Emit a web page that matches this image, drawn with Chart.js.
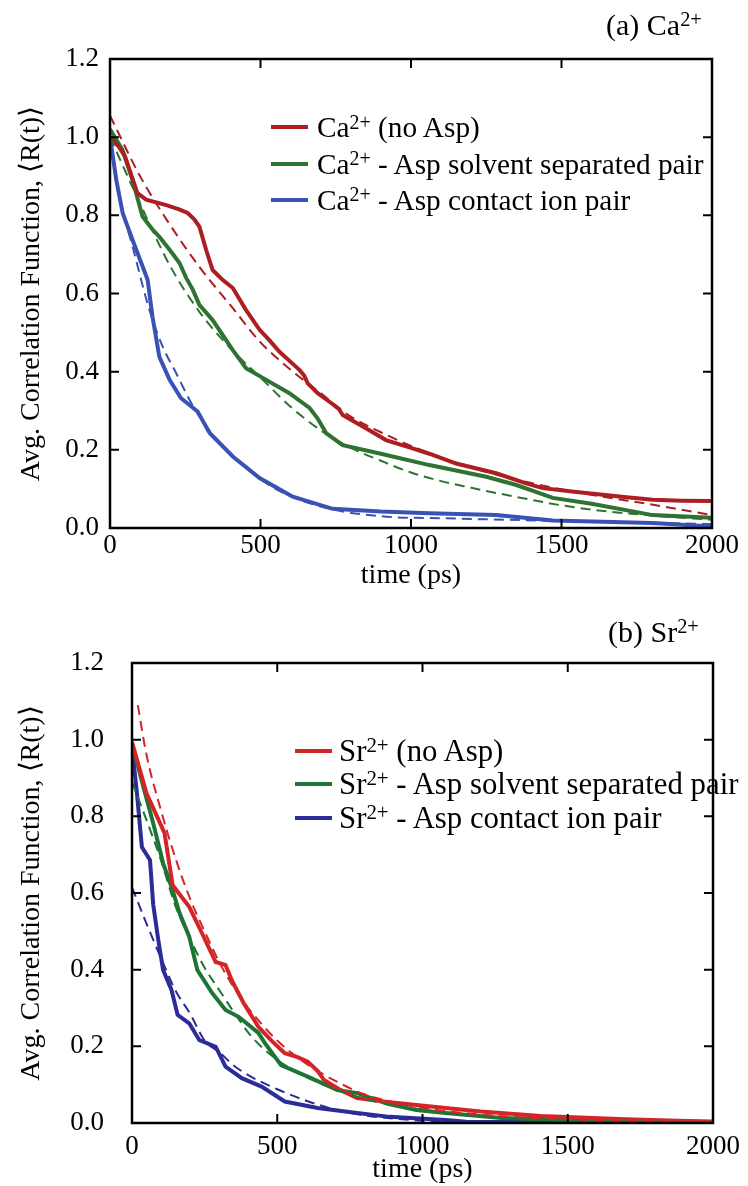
<!DOCTYPE html>
<html><head><meta charset="utf-8">
<script src="https://cdn.jsdelivr.net/npm/chart.js@4.4.0/dist/chart.umd.min.js"></script>
<style>
html,body{margin:0;padding:0;background:#fff;width:748px;height:1186px;overflow:hidden;}
#wrap{position:relative;width:748px;height:1186px;font-family:'Liberation Serif','Times New Roman',serif;color:#000;}
canvas{position:absolute;left:0;}
.txt{position:absolute;white-space:nowrap;line-height:1;}
.sup{font-size:0.68em;position:relative;top:-0.42em;}
.sw{position:absolute;height:4px;}
</style></head>
<body><div id="wrap">
<canvas id="ca" width="748" height="595" style="top:0"></canvas>
<canvas id="sr" width="748" height="586" style="top:600px"></canvas>
</div>
<script>
// ---------- Panel (a) Ca2+ ----------
const caNoAspT = [0, 30, 50, 91, 120, 187, 230, 258, 280, 297, 320, 341, 374, 408, 450, 497, 530, 563, 600, 630, 645, 657, 690, 729, 760, 773, 850, 917, 1000, 1061, 1150, 1283, 1380, 1437, 1550, 1700, 1803, 1900, 2000];
const caNoAspR = [1.0, 0.975, 0.95, 0.857, 0.84, 0.826, 0.815, 0.806, 0.79, 0.771, 0.71, 0.66, 0.635, 0.614, 0.56, 0.507, 0.48, 0.451, 0.425, 0.404, 0.39, 0.37, 0.345, 0.323, 0.305, 0.289, 0.255, 0.225, 0.205, 0.19, 0.165, 0.14, 0.115, 0.102, 0.092, 0.08, 0.072, 0.07, 0.069];
const caNoAspFitT = [0, 100, 200, 300, 400, 500, 600, 700, 800, 900, 1000, 1200, 1400, 1600, 1800, 2000];
const caNoAspFitR = [1.055, 0.9, 0.775, 0.665, 0.57, 0.475, 0.405, 0.345, 0.285, 0.245, 0.21, 0.155, 0.115, 0.085, 0.06, 0.033];
const caSspT = [0, 42, 75, 108, 140, 164, 200, 231, 253, 275, 297, 341, 408, 452, 519, 596, 663, 690, 718, 773, 900, 1061, 1250, 1350, 1471, 1600, 1803, 2000];
const caSspR = [1.02, 0.967, 0.89, 0.797, 0.765, 0.745, 0.71, 0.678, 0.64, 0.61, 0.571, 0.532, 0.455, 0.409, 0.379, 0.345, 0.307, 0.28, 0.243, 0.212, 0.19, 0.161, 0.131, 0.11, 0.077, 0.062, 0.033, 0.026];
const caSspFitT = [0, 100, 200, 300, 400, 500, 600, 700, 800, 900, 1000, 1100, 1200, 1300, 1400, 1500, 1600, 1800, 2000];
const caSspFitR = [1.0, 0.83, 0.67, 0.55, 0.46, 0.385, 0.31, 0.25, 0.205, 0.172, 0.142, 0.12, 0.103, 0.087, 0.072, 0.058, 0.047, 0.032, 0.021];
const caCipT = [0, 21, 42, 75, 104, 125, 141, 164, 198, 236, 291, 331, 408, 497, 607, 740, 900, 1061, 1283, 1471, 1803, 2000];
const caCipR = [1.0, 0.89, 0.806, 0.737, 0.678, 0.635, 0.541, 0.438, 0.379, 0.332, 0.298, 0.243, 0.183, 0.128, 0.08, 0.049, 0.042, 0.038, 0.033, 0.019, 0.013, 0.004];
const caCipFitT = [0, 31, 75, 131, 175, 220, 270, 350, 450, 550, 700, 900, 1100, 1500, 2000];
const caCipFitR = [1.0, 0.848, 0.72, 0.558, 0.464, 0.396, 0.32, 0.23, 0.155, 0.1, 0.055, 0.03, 0.025, 0.018, 0.01];

// ---------- Panel (b) Sr2+ ----------
const srNoAspT = [0, 50, 112, 140, 197, 241, 288, 310, 322, 345, 384, 435, 480, 526, 570, 605, 640, 661, 720, 775, 880, 979, 1080, 1200, 1408, 1700, 2000];
const srNoAspR = [0.994, 0.86, 0.756, 0.62, 0.564, 0.495, 0.42, 0.415, 0.412, 0.37, 0.313, 0.251, 0.215, 0.182, 0.172, 0.16, 0.135, 0.112, 0.085, 0.065, 0.055, 0.047, 0.039, 0.03, 0.018, 0.01, 0.003];
const srNoAspFitT = [20, 50, 100, 150, 200, 250, 300, 356, 400, 500, 600, 700, 800, 1000, 1200, 1500, 2000];
const srNoAspFitR = [1.09, 0.96, 0.815, 0.69, 0.585, 0.5, 0.42, 0.347, 0.3, 0.215, 0.155, 0.11, 0.075, 0.04, 0.022, 0.01, 0.002];
const srSspT = [0, 39, 73, 107, 140, 164, 197, 225, 276, 322, 367, 435, 457, 513, 605, 707, 775, 880, 979, 1080, 1272, 1500, 2000];
const srSspR = [0.99, 0.877, 0.782, 0.678, 0.607, 0.547, 0.486, 0.399, 0.339, 0.295, 0.277, 0.235, 0.209, 0.151, 0.121, 0.086, 0.078, 0.05, 0.034, 0.026, 0.013, 0.008, 0.003];
const srSspFitT = [0, 50, 100, 150, 200, 250, 300, 350, 412, 500, 600, 700, 800, 1000, 1200, 1500, 2000];
const srSspFitR = [0.89, 0.79, 0.685, 0.565, 0.48, 0.405, 0.347, 0.29, 0.225, 0.165, 0.12, 0.088, 0.063, 0.035, 0.018, 0.008, 0.002];
const srCipT = [0, 17, 34, 62, 73, 90, 107, 136, 157, 197, 232, 288, 322, 378, 446, 526, 639, 775, 887, 1080, 1150, 1500, 2000];
const srCipR = [0.98, 0.86, 0.72, 0.686, 0.57, 0.48, 0.399, 0.347, 0.282, 0.26, 0.216, 0.199, 0.147, 0.117, 0.095, 0.056, 0.039, 0.026, 0.016, 0.008, 0.003, 0.002, 0.0];
const srCipFitT = [0, 50, 100, 150, 200, 250, 300, 350, 400, 500, 600, 700, 800, 1000, 1200, 2000];
const srCipFitR = [0.615, 0.52, 0.43, 0.345, 0.285, 0.215, 0.185, 0.15, 0.125, 0.088, 0.058, 0.035, 0.02, 0.006, 0.002, 0.0];

// ---------- Axes / labels ----------
const xTickValues = [0, 500, 1000, 1500, 2000];
const yTickValues = [0, 0.2, 0.4, 0.6, 0.8, 1.0, 1.2];
const xTitle = 'time (ps)';
const yTitle = 'Avg. Correlation Function, \u27E8R(t)\u27E9';
const caIon = ['Ca', '2+'];
const srIon = ['Sr', '2+'];
const seriesSuffix = [' (no Asp)', ' - Asp solvent separated pair', ' - Asp contact ion pair'];

const SERIF = "'Liberation Serif','Times New Roman',serif";

function pts(t, r) { return t.map((x, i) => ({ x: x, y: r[i] })); }
function solid(t, r, c) {
  return { data: pts(t, r), borderColor: c, borderWidth: 4, pointRadius: 0, tension: 0, fill: false };
}
function dashed(t, r, c) {
  return { data: pts(t, r), borderColor: c, borderWidth: 2, borderDash: [10, 6], pointRadius: 0, cubicInterpolationMode: 'monotone', fill: false };
}

const framePlugin = {
  id: 'frame',
  afterDraw(chart) {
    const { ctx, chartArea: a, scales } = chart;
    const x = scales.x, y = scales.y;
    ctx.save();
    ctx.strokeStyle = '#000';
    ctx.lineWidth = 2.5;
    ctx.strokeRect(a.left, a.top, a.right - a.left, a.bottom - a.top);
    ctx.lineWidth = 2;
    const L = 9;
    ctx.beginPath();
    xTickValues.slice(1, -1).forEach(v => {
      const px = x.getPixelForValue(v);
      ctx.moveTo(px, a.bottom); ctx.lineTo(px, a.bottom - L);
      ctx.moveTo(px, a.top); ctx.lineTo(px, a.top + L);
    });
    yTickValues.slice(1, -1).forEach(v => {
      const py = y.getPixelForValue(v);
      ctx.moveTo(a.left, py); ctx.lineTo(a.left + L, py);
      ctx.moveTo(a.right, py); ctx.lineTo(a.right - L, py);
    });
    ctx.stroke();
    ctx.restore();
  }
};

function makeChart(id, datasets, cfg) {
  const font = { family: SERIF, size: 27 };
  const tfont = { family: SERIF, size: 28 };
  return new Chart(document.getElementById(id), {
    type: 'line',
    data: { datasets: datasets },
    options: {
      responsive: false, animation: false, devicePixelRatio: 1,
      layout: { padding: { left: 0, top: cfg.top, right: cfg.right, bottom: 0 } },
      plugins: { legend: { display: false }, tooltip: { enabled: false } },
      scales: {
        x: {
          type: 'linear', min: 0, max: 2000,
          afterBuildTicks: s => { s.ticks = xTickValues.map(v => ({ value: v })); },
          ticks: { font: font, color: '#000', padding: cfg.xPad, autoSkip: false, maxRotation: 0, callback: v => String(v) },
          grid: { display: false, drawTicks: false }, border: { display: false },
          title: { display: true, text: xTitle, font: tfont, color: '#000', padding: { top: 0, bottom: cfg.xtPad } },
          afterFit: s => { s.height = cfg.xH; }
        },
        y: {
          type: 'linear', min: 0, max: 1.2,
          afterBuildTicks: s => { s.ticks = yTickValues.map(v => ({ value: v })); },
          ticks: { font: font, color: '#000', padding: cfg.yPad, callback: v => Number(v).toFixed(1) },
          grid: { display: false, drawTicks: false }, border: { display: false },
          title: { display: true, text: yTitle, font: tfont, color: '#000', padding: { top: 15, bottom: 0 } },
          afterFit: s => { s.width = cfg.yW; }
        }
      }
    },
    plugins: [framePlugin]
  });
}

const caRed = '#ad1e23', caGreen = '#2e7331', caBlue = '#3a52b3';
const srRed = '#d42427', srGreen = '#1d7535', srBlue = '#2b2c98';

makeChart('ca', [
  dashed(caNoAspFitT, caNoAspFitR, caRed),
  dashed(caSspFitT, caSspFitR, caGreen),
  dashed(caCipFitT, caCipFitR, caBlue),
  solid(caNoAspT, caNoAspR, caRed),
  solid(caSspT, caSspR, caGreen),
  solid(caCipT, caCipR, caBlue)
], { top: 59, right: 36, xH: 67, yW: 110, xPad: 2, yPad: 11, xtPad: 3 });

makeChart('sr', [
  dashed(srNoAspFitT, srNoAspFitR, srRed),
  dashed(srSspFitT, srSspFitR, srGreen),
  dashed(srCipFitT, srCipFitR, srBlue),
  solid(srNoAspT, srNoAspR, srRed),
  solid(srSspT, srSspR, srGreen),
  solid(srCipT, srCipR, srBlue)
], { top: 63, right: 27, xH: 63, yW: 132, xPad: 8, yPad: 28, xtPad: 0 });

// ---------- HTML text: panel labels and legends ----------
const wrap = document.getElementById('wrap');
function ionHTML(ion) { return ion[0] + '<span class="sup">' + ion[1] + '</span>'; }
function addText(html, left, top, size) {
  const d = document.createElement('div');
  d.className = 'txt';
  d.style.left = left + 'px'; d.style.top = top + 'px'; d.style.fontSize = size + 'px';
  d.innerHTML = html;
  wrap.appendChild(d);
}
function addSwatch(left, width, y, color) {
  const d = document.createElement('div');
  d.className = 'sw';
  d.style.left = left + 'px'; d.style.width = width + 'px'; d.style.top = (y - 2) + 'px'; d.style.background = color;
  wrap.appendChild(d);
}
addText('(a) ' + ionHTML(caIon), 606, 10, 30);
addText('(b) ' + ionHTML(srIon), 608, 617, 30);

const caRows = [127, 163.5, 199.5], caCols = [caRed, caGreen, caBlue];
caRows.forEach((y, i) => {
  addSwatch(271, 37, y, caCols[i]);
  addText(ionHTML(caIon) + seriesSuffix[i], 317, y - 14, 29.3);
});
const srRows = [751, 784, 817.5], srCols = [srRed, srGreen, srBlue];
srRows.forEach((y, i) => {
  addSwatch(295, 37, y, srCols[i]);
  addText(ionHTML(srIon) + seriesSuffix[i], 339, y - 15, 30.8);
});
</script>
</body></html>
